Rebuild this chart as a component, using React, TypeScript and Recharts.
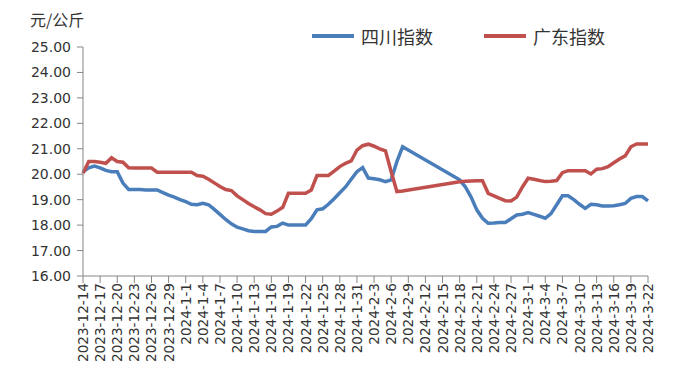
import React from "react";
import { LineChart, Line, XAxis, YAxis, Legend } from "recharts";

// daily dates 2023-12-14 .. 2024-3-22
const dates: string[] = [
  "2023-12-14", "2023-12-15", "2023-12-16", "2023-12-17", "2023-12-18", "2023-12-19", "2023-12-20", "2023-12-21", "2023-12-22", "2023-12-23",
  "2023-12-24", "2023-12-25", "2023-12-26", "2023-12-27", "2023-12-28", "2023-12-29", "2023-12-30", "2023-12-31", "2024-1-1", "2024-1-2",
  "2024-1-3", "2024-1-4", "2024-1-5", "2024-1-6", "2024-1-7", "2024-1-8", "2024-1-9", "2024-1-10", "2024-1-11", "2024-1-12",
  "2024-1-13", "2024-1-14", "2024-1-15", "2024-1-16", "2024-1-17", "2024-1-18", "2024-1-19", "2024-1-20", "2024-1-21", "2024-1-22",
  "2024-1-23", "2024-1-24", "2024-1-25", "2024-1-26", "2024-1-27", "2024-1-28", "2024-1-29", "2024-1-30", "2024-1-31", "2024-2-1",
  "2024-2-2", "2024-2-3", "2024-2-4", "2024-2-5", "2024-2-6", "2024-2-7", "2024-2-8", "2024-2-9", "2024-2-10", "2024-2-11",
  "2024-2-12", "2024-2-13", "2024-2-14", "2024-2-15", "2024-2-16", "2024-2-17", "2024-2-18", "2024-2-19", "2024-2-20", "2024-2-21",
  "2024-2-22", "2024-2-23", "2024-2-24", "2024-2-25", "2024-2-26", "2024-2-27", "2024-2-28", "2024-2-29", "2024-3-1", "2024-3-2",
  "2024-3-3", "2024-3-4", "2024-3-5", "2024-3-6", "2024-3-7", "2024-3-8", "2024-3-9", "2024-3-10", "2024-3-11", "2024-3-12",
  "2024-3-13", "2024-3-14", "2024-3-15", "2024-3-16", "2024-3-17", "2024-3-18", "2024-3-19", "2024-3-20", "2024-3-21", "2024-3-22",
];

// 四川指数
const sichuan: (number | null)[] = [
  20.1, 20.25, 20.32, 20.25, 20.15, 20.1, 20.1, 19.65, 19.4, 19.4,
  19.4, 19.38, 19.38, 19.38, 19.28, 19.18, 19.1, 19.0, 18.92, 18.82,
  18.8, 18.86, 18.8, 18.62, 18.42, 18.22, 18.05, 17.92, 17.85, 17.78,
  17.75, 17.75, 17.75, 17.93, 17.95, 18.08, 18.0, 18.0, 18.0, 18.0,
  18.25, 18.6, 18.64, 18.82, 19.04, 19.27, 19.5, 19.8, 20.1, 20.26,
  19.85, 19.82, 19.78, 19.71, 19.78, 20.5, 21.08, null, null, null,
  null, null, null, null, null, null, 19.78, 19.5, 19.1, 18.6,
  18.27, 18.07, 18.08, 18.1, 18.1, 18.25, 18.4, 18.43, 18.49, 18.42,
  18.35, 18.27, 18.45, 18.8, 19.15, 19.15, 19.0, 18.82, 18.66, 18.82,
  18.8, 18.75, 18.75, 18.76, 18.8, 18.85, 19.05, 19.12, 19.12, 18.95,
];

// 广东指数
const guangdong: (number | null)[] = [
  20.04, 20.5, 20.5, 20.47, 20.43, 20.65, 20.5, 20.47, 20.25, 20.24,
  20.24, 20.24, 20.24, 20.08, 20.08, 20.08, 20.08, 20.08, 20.08, 20.08,
  19.95, 19.92, 19.8, 19.66, 19.52, 19.4, 19.36, 19.15, 19.0, 18.85,
  18.72, 18.6, 18.45, 18.43, 18.55, 18.7, 19.25, 19.25, 19.25, 19.25,
  19.38, 19.95, 19.95, 19.95, 20.12, 20.3, 20.43, 20.52, 20.95, 21.12,
  21.18, 21.1, 21.0, 20.92, 20.1, 19.32, 19.34, null, null, null,
  null, null, null, null, null, null, 19.7, 19.72, 19.73, 19.74,
  19.74, 19.25, 19.15, 19.05, 18.96, 18.95, 19.1, 19.5, 19.84, 19.8,
  19.75, 19.71, 19.72, 19.75, 20.06, 20.14, 20.14, 20.14, 20.14, 20.01,
  20.2, 20.22, 20.3, 20.45, 20.6, 20.72, 21.08, 21.19, 21.19, 21.19,
];

const yTicks = [16, 17, 18, 19, 20, 21, 22, 23, 24, 25];

const data = dates.map((date, i) => ({
  date,
  sichuan: sichuan[i],
  guangdong: guangdong[i],
}));

const BLUE = "#4A7EBB";
const RED = "#C0504D";
const TEXT = "#333333";
const AXIS = "#868686";

function DateTick({ x, y, payload }: any) {
  return (
    <text
      x={x}
      y={y}
      transform={`rotate(-90, ${x}, ${y})`}
      textAnchor="end"
      dominantBaseline="central"
      fill={TEXT}
      fontSize={13.6}
      fontFamily="DejaVu Sans"
    >
      {payload.value}
    </text>
  );
}

function LegendBox() {
  const item = (color: string, label: string, left: number) => (
    <div style={{ position: "absolute", left, top: 0, display: "flex", alignItems: "center" }}>
      <div style={{ width: 42, height: 3.5, background: color }} />
      <span style={{ marginLeft: 7, fontSize: 18, color: TEXT, fontFamily: "Noto Sans CJK SC", lineHeight: "20px" }}>
        {label}
      </span>
    </div>
  );
  return (
    <div style={{ position: "relative", width: 320, height: 20 }}>
      {item(BLUE, "四川指数", 0)}
      {item(RED, "广东指数", 172)}
    </div>
  );
}

export default function App() {
  return (
    <div style={{ position: "absolute", left: 0, top: 0, width: 686, height: 375, background: "#fff" }}>
      <div
        style={{
          position: "absolute",
          left: 30,
          top: 7,
          fontSize: 16,
          color: TEXT,
          fontFamily: "Noto Sans CJK SC",
          zIndex: 2,
        }}
      >
        元/公斤
      </div>
      <LineChart width={686} height={375} data={data} margin={{ top: 47, right: 38, bottom: 0, left: 0 }}>
        <XAxis
          dataKey="date"
          interval={2}
          height={99}
          tick={<DateTick />}
          tickSize={7}
          tickMargin={0}
          axisLine={{ stroke: AXIS }}
          tickLine={{ stroke: AXIS }}
        />
        <YAxis
          domain={[16, 25]}
          ticks={yTicks}
          width={83}
          tickSize={6}
          tickMargin={6}
          tickFormatter={(v: number) => v.toFixed(2)}
          tick={{ fill: TEXT, fontSize: 14, fontFamily: "DejaVu Sans" }}
          axisLine={{ stroke: AXIS }}
          tickLine={{ stroke: AXIS }}
        />
        <Legend
          verticalAlign="middle"
          align="center"
          layout="horizontal"
          content={<LegendBox />}
          wrapperStyle={{ top: 26, left: 312, width: 320 }}
        />
        <Line
          dataKey="sichuan"
          name="四川指数"
          stroke={BLUE}
          strokeWidth={3.5}
          dot={false}
          connectNulls
          isAnimationActive={false}
        />
        <Line
          dataKey="guangdong"
          name="广东指数"
          stroke={RED}
          strokeWidth={3.5}
          dot={false}
          connectNulls
          isAnimationActive={false}
        />
      </LineChart>
    </div>
  );
}
